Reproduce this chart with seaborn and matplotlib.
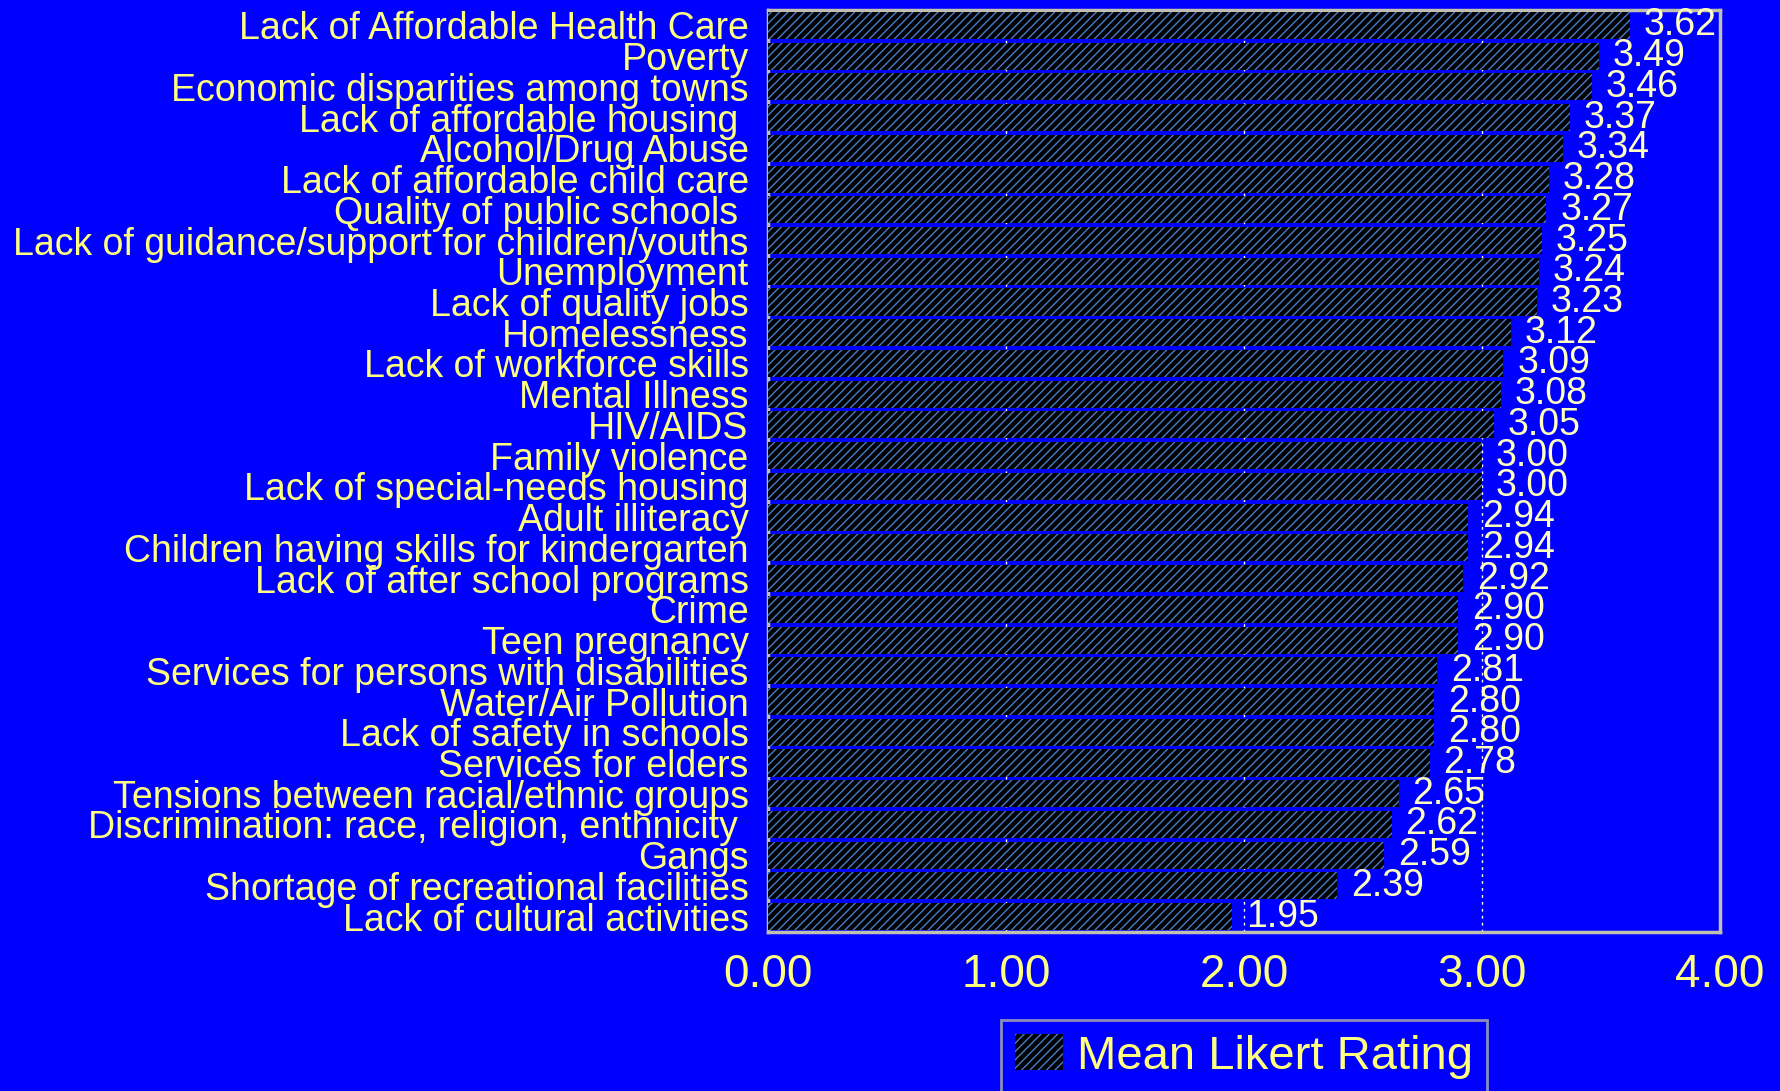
import matplotlib
matplotlib.use('Agg')
import matplotlib.pyplot as plt
import seaborn as sns
import pandas as pd

# ─────────────────────────────────────────
# DATA (top to bottom)
# ─────────────────────────────────────────
ISSUES = [
    'Lack of Affordable Health Care',
    'Poverty',
    'Economic disparities among towns',
    'Lack of affordable housing ',
    'Alcohol/Drug Abuse',
    'Lack of affordable child care',
    'Quality of public schools ',
    'Lack of guidance/support for children/youths',
    'Unemployment',
    'Lack of quality jobs',
    'Homelessness',
    'Lack of workforce skills',
    'Mental Illness',
    'HIV/AIDS',
    'Family violence',
    'Lack of special-needs housing',
    'Adult illiteracy',
    'Children having skills for kindergarten',
    'Lack of after school programs',
    'Crime',
    'Teen pregnancy',
    'Services for persons with disabilities',
    'Water/Air Pollution',
    'Lack of safety in schools',
    'Services for elders',
    'Tensions between racial/ethnic groups',
    'Discrimination: race, religion, enthnicity ',
    'Gangs',
    'Shortage of recreational facilities',
    'Lack of cultural activities',
]
MEAN_RATING = [3.62, 3.49, 3.46, 3.37, 3.34, 3.28, 3.27, 3.25, 3.24, 3.23,
               3.12, 3.09, 3.08, 3.05, 3.00, 3.00, 2.94, 2.94, 2.92, 2.90,
               2.90, 2.81, 2.80, 2.80, 2.78, 2.65, 2.62, 2.59, 2.39, 1.95]
X_TICKS = [0, 1, 2, 3, 4]
SERIES_NAME = 'Mean Likert Rating'

# ─────────────────────────────────────────
# STYLE
# ─────────────────────────────────────────
BG       = '#0000ff'
TXT      = '#ffff80'
VAL_TXT  = '#ffffc0'
FRAME    = '#c0c0b0'
HATCH_C  = '#4a7cc8'

sns.set_theme(style='white')
plt.rcParams['font.family'] = ['Liberation Sans', 'DejaVu Sans']
plt.rcParams['hatch.linewidth'] = 1.0

df = pd.DataFrame({'issue': ISSUES, 'rating': MEAN_RATING})

fig = plt.figure(figsize=(17.8, 10.91), dpi=100, facecolor=BG)
ax = fig.add_axes([0.4315, 0.1457, 0.9663 - 0.4315, 0.9908 - 0.1457])
ax.set_facecolor(BG)

sns.barplot(data=df, x='rating', y='issue', orient='h', order=ISSUES,
            color='black', width=0.88, label=SERIES_NAME, ax=ax, zorder=3)
# hatch colour follows the edge colour, so the edge itself is not drawn
for p in ax.patches:
    p.set_facecolor('black')
    p.set_edgecolor(HATCH_C)
    p.set_linewidth(0)
    p.set_hatch('////')

labels = ax.bar_label(ax.containers[0], fmt='%.2f', padding=10, fontsize=27,
                      color=VAL_TXT, zorder=4)

ax.set_xlim(0, 4)
ax.set_ylim(len(ISSUES) - 0.5, -0.5)
ax.set_xticks(X_TICKS)
ax.set_xticklabels([f'{v:.2f}' for v in X_TICKS])
ax.set_xlabel('')
ax.set_ylabel('')
ax.tick_params(axis='x', length=0, pad=15, labelsize=33, labelcolor=TXT)
ax.tick_params(axis='y', length=0, pad=14, labelsize=27, labelcolor=TXT)

# dotted vertical grid, behind the bars
for v in X_TICKS[1:-1]:
    ax.axvline(v, color='white', linestyle=(0, (2, 3)), linewidth=1.0, zorder=1)

for s in ax.spines.values():
    s.set_visible(True)
    s.set_color(FRAME)
    s.set_linewidth(2.5)

leg = ax.legend(loc='upper center', bbox_to_anchor=(0.5, -0.07),
                fontsize=34, frameon=True, fancybox=False,
                handlelength=1.0, handleheight=0.8, handletextpad=0.3,
                borderpad=0.3, labelcolor=TXT)
leg.get_frame().set_facecolor(BG)
leg.get_frame().set_edgecolor('#b0b0b0')
leg.get_frame().set_linewidth(2)

fig.savefig('out.png', dpi=100, facecolor=BG)
